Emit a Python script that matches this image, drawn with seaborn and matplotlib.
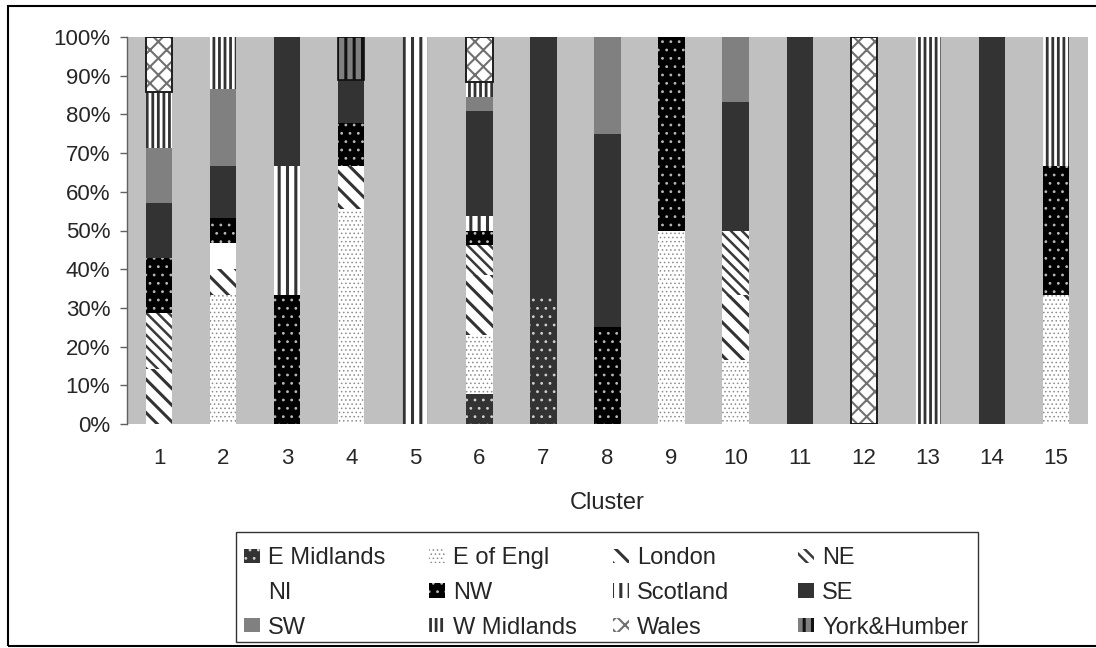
import matplotlib
matplotlib.use("Agg")
import matplotlib.pyplot as plt
from matplotlib.patches import Patch, Rectangle
from matplotlib.colors import to_rgba
from matplotlib.ticker import PercentFormatter
import seaborn as sns
import pandas as pd
import numpy as np

# ---------------- data (counts per cluster) ----------------
clusters = list(range(1, 16))
regions = ["E Midlands", "E of Engl", "London", "NE", "NI", "NW",
           "Scotland", "SE", "SW", "W Midlands", "Wales", "York&Humber"]

e_midlands = [0, 0, 0, 0, 0, 2, 1, 0, 0, 0, 0, 0, 0, 0, 0]
e_of_engl  = [0, 5, 0, 5, 0, 4, 0, 0, 1, 1, 0, 0, 0, 0, 1]
london     = [1, 1, 0, 1, 0, 4, 0, 0, 0, 1, 0, 0, 0, 0, 0]
ne         = [1, 0, 0, 0, 0, 2, 0, 0, 0, 1, 0, 0, 0, 0, 0]
ni         = [0, 1, 0, 0, 0, 0, 0, 0, 0, 0, 0, 0, 0, 0, 0]
nw         = [1, 1, 1, 1, 0, 1, 0, 1, 1, 0, 0, 0, 0, 0, 1]
scotland   = [0, 0, 1, 0, 1, 1, 0, 0, 0, 0, 0, 0, 0, 0, 0]
se         = [1, 2, 1, 1, 0, 7, 2, 2, 0, 2, 1, 0, 0, 1, 0]
sw         = [1, 3, 0, 0, 0, 1, 0, 1, 0, 1, 0, 0, 0, 0, 0]
w_midlands = [1, 2, 0, 0, 0, 1, 0, 0, 0, 0, 0, 0, 1, 0, 1]
wales      = [1, 0, 0, 0, 0, 3, 0, 0, 0, 0, 0, 1, 0, 0, 0]
york       = [0, 0, 0, 1, 0, 0, 0, 0, 0, 0, 0, 0, 0, 0, 0]

series = [e_midlands, e_of_engl, london, ne, ni, nw,
          scotland, se, sw, w_midlands, wales, york]

y_ticks = [0, 0.1, 0.2, 0.3, 0.4, 0.5, 0.6, 0.7, 0.8, 0.9, 1.0]

# ---------------- styles ----------------
styles = {
    "E Midlands":  dict(fc="#333333", hatch="..",      hc="#d0d0d0", hlw=0.8, border=None),
    "E of Engl":   dict(fc="white",   hatch="....",    hc="#8c8c8c", hlw=0.6, border=None),
    "London":      dict(fc="white",   hatch="\\\\",    hc="#333333", hlw=2.2, border=None),
    "NE":          dict(fc="white",   hatch="\\\\\\",  hc="#3a3a3a", hlw=1.8, border=None),
    "NI":          dict(fc="white",   hatch="",        hc="white",   hlw=1.0, border=None),
    "NW":          dict(fc="black",   hatch="..",      hc="#b8b8b8", hlw=0.8, border=None),
    "Scotland":    dict(fc="white",   hatch="||",      hc="#333333", hlw=2.2, border=None),
    "SE":          dict(fc="#333333", hatch="",        hc="#333333", hlw=1.0, border=None),
    "SW":          dict(fc="#808080", hatch="",        hc="#808080", hlw=1.0, border=None),
    "W Midlands":  dict(fc="white",   hatch="|||",     hc="#333333", hlw=2.0, border=None),
    "Wales":       dict(fc="white",   hatch="xx",      hc="#707070", hlw=1.5, border=1.2),
    "York&Humber": dict(fc="#808080", hatch="||",      hc="#111111", hlw=2.2, border=1.2),
}

plt.rcParams["hatch.linewidth"] = 2.0
sns.set_style("white")
plt.rcParams["font.family"] = ["Liberation Sans", "DejaVu Sans"]
FS_TICK = 16
FS_TEXT = 17


def set_hlw(artist, lw):
    if hasattr(artist, "set_hatch_linewidth"):
        artist.set_hatch_linewidth(lw)
    else:
        artist._hatch_linewidth = lw


# long-form table
rows = []
for reg, vals in zip(regions, series):
    for c, v in zip(clusters, vals):
        if v > 0:
            rows.append({"Cluster": c, "Region": reg, "Count": v})
df = pd.DataFrame(rows)

W, H = 1096, 648
fig = plt.figure(figsize=(W / 100, H / 100), dpi=100)
ax = fig.add_axes([127 / W, 1 - 424 / H, (1088 - 127) / W, (424 - 37) / H])
ax.set_facecolor("#C0C0C0")

key_colors = sns.color_palette("husl", len(regions))
palette = dict(zip(regions, key_colors))

sns.histplot(data=df, x="Cluster", hue="Region", weights="Count",
             hue_order=regions[::-1], multiple="fill", discrete=True,
             shrink=0.41, palette=palette, alpha=1, legend=False, ax=ax,
             linewidth=0)

# restyle bars by region
key_rgba = {reg: np.array(to_rgba(col)) for reg, col in palette.items()}
for p in list(ax.patches):
    fc = np.array(p.get_facecolor())
    reg = min(key_rgba, key=lambda r: np.abs(key_rgba[r][:3] - fc[:3]).sum())
    st = styles[reg]
    p.set_facecolor(st["fc"])
    p.set_edgecolor(st["hc"])
    if st["hatch"]:
        p.set_hatch(st["hatch"])
        set_hlw(p, st["hlw"])
    p.set_alpha(1)
    if p.get_height() <= 0:
        p.set_linewidth(0)
        p.set_visible(False)
        continue
    if st["border"]:
        p.set_linewidth(st["border"])
        if reg == "Wales":
            # dark outline over the lighter crosshatch
            ax.add_patch(Rectangle(p.get_xy(), p.get_width(), p.get_height(),
                                   fill=False, edgecolor="#111111",
                                   linewidth=st["border"], zorder=p.get_zorder() + 0.1))
    else:
        p.set_linewidth(0)

ax.set_xlim(0.5, 15.5)
ax.set_ylim(0, 1)
ax.set_xticks(clusters)
ax.set_xticklabels([str(c) for c in clusters], fontsize=FS_TICK)
ax.set_yticks(y_ticks)
ax.yaxis.set_major_formatter(PercentFormatter(1.0, decimals=0))
for lab in ax.get_yticklabels():
    lab.set_fontsize(FS_TICK)
ax.tick_params(axis="x", length=0, pad=17.5)
ax.tick_params(axis="y", length=5, width=1, color="#606060", pad=7, left=True)
ax.set_xlabel("Cluster", fontsize=FS_TEXT, labelpad=16)
ax.set_ylabel("")
for side in ["top", "right", "bottom"]:
    ax.spines[side].set_visible(False)
ax.spines["left"].set_color("#606060")
ax.spines["left"].set_linewidth(1)

# legend: four equal-width columns, row-major order as in the reference
handles = []
for reg in regions:
    st = styles[reg]
    h = Patch(facecolor=st["fc"], edgecolor=st["hc"], hatch=st["hatch"], linewidth=0)
    set_hlw(h, st["hlw"])
    handles.append(h)
col_x = [244, 429, 613, 798]
for c, x in enumerate(col_x):
    idx = [r * 4 + c for r in range(3)]
    leg = fig.legend([handles[i] for i in idx], [regions[i] for i in idx],
                     loc="upper left", bbox_to_anchor=(x / W, 1 - 547 / H),
                     fontsize=FS_TEXT, frameon=False, borderpad=0, borderaxespad=0,
                     handlelength=0.68, handleheight=0.55, handletextpad=0.34,
                     labelspacing=0.54)
    for i, lh in zip(idx, leg.legend_handles):
        set_hlw(lh, styles[regions[i]]["hlw"])
fig.patches.append(Rectangle((236 / W, 1 - 642 / H), (978 - 236) / W, (642 - 532) / H,
                             transform=fig.transFigure, fill=False,
                             edgecolor="#333333", linewidth=1))

# outer border
fig.patches.append(Rectangle((8 / W, 2 / H), (1100 - 8) / W, (642 - 2) / H,
                             transform=fig.transFigure, fill=False,
                             edgecolor="black", linewidth=1.5))

fig.savefig("out.png", dpi=100)
